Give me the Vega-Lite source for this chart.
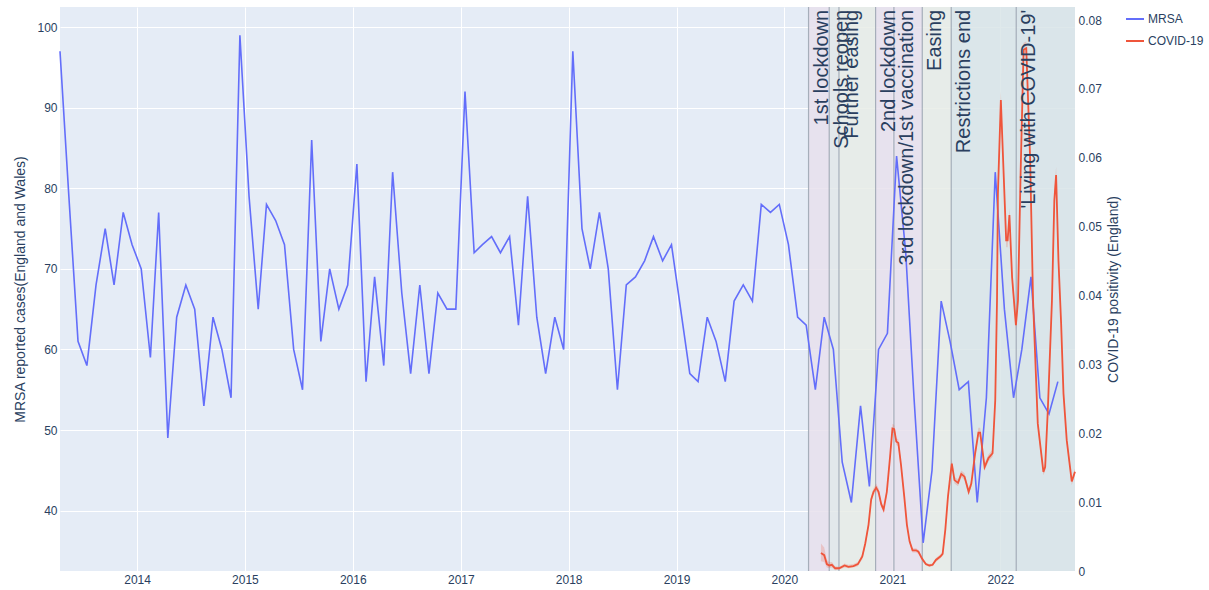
{
"$schema": "https://vega.github.io/schema/vega-lite/v6.json",
"width": 1015, "height": 564,
"autosize": {"type": "none"},
"padding": {"left": 60, "top": 7, "right": 134, "bottom": 19},
"background": "white",
"config": {
  "view": {"fill": "#E5ECF6", "stroke": null},
  "font": "Liberation Sans",
  "axis": {"labelColor": "#2a3f5f", "labelFontSize": 12, "titleColor": "#2a3f5f", "titleFontSize": 14, "titleFontWeight": "normal", "domain": false, "ticks": false, "tickSize": 0, "gridColor": "#ffffff", "gridWidth": 1, "gridOpacity": 1, "labelFont": "Liberation Sans", "titleFont": "Liberation Sans"},
  "legend": {"labelFontSize": 12, "labelColor": "#2a3f5f", "labelFont": "Liberation Sans", "symbolType": "stroke", "symbolSize": 324, "symbolStrokeWidth": 2, "rowPadding": 6, "labelOffset": 3, "padding": 2}
},
"datasets": {
  "mrsa": [
    {"date":"2013-04-15","cases":97},{"date":"2013-05-15","cases":79},{"date":"2013-06-15","cases":61},{"date":"2013-07-15","cases":58},{"date":"2013-08-15","cases":68},{"date":"2013-09-15","cases":75},{"date":"2013-10-15","cases":68},{"date":"2013-11-15","cases":77},{"date":"2013-12-15","cases":73},
    {"date":"2014-01-15","cases":70},{"date":"2014-02-15","cases":59},{"date":"2014-03-15","cases":77},{"date":"2014-04-15","cases":49},{"date":"2014-05-15","cases":64},{"date":"2014-06-15","cases":68},{"date":"2014-07-15","cases":65},{"date":"2014-08-15","cases":53},{"date":"2014-09-15","cases":64},{"date":"2014-10-15","cases":60},{"date":"2014-11-15","cases":54},{"date":"2014-12-15","cases":99},
    {"date":"2015-01-15","cases":79},{"date":"2015-02-15","cases":65},{"date":"2015-03-15","cases":78},{"date":"2015-04-15","cases":76},{"date":"2015-05-15","cases":73},{"date":"2015-06-15","cases":60},{"date":"2015-07-15","cases":55},{"date":"2015-08-15","cases":86},{"date":"2015-09-15","cases":61},{"date":"2015-10-15","cases":70},{"date":"2015-11-15","cases":65},{"date":"2015-12-15","cases":68},
    {"date":"2016-01-15","cases":83},{"date":"2016-02-15","cases":56},{"date":"2016-03-15","cases":69},{"date":"2016-04-15","cases":58},{"date":"2016-05-15","cases":82},{"date":"2016-06-15","cases":67},{"date":"2016-07-15","cases":57},{"date":"2016-08-15","cases":68},{"date":"2016-09-15","cases":57},{"date":"2016-10-15","cases":67},{"date":"2016-11-15","cases":65},{"date":"2016-12-15","cases":65},
    {"date":"2017-01-15","cases":92},{"date":"2017-02-15","cases":72},{"date":"2017-03-15","cases":73},{"date":"2017-04-15","cases":74},{"date":"2017-05-15","cases":72},{"date":"2017-06-15","cases":74},{"date":"2017-07-15","cases":63},{"date":"2017-08-15","cases":79},{"date":"2017-09-15","cases":64},{"date":"2017-10-15","cases":57},{"date":"2017-11-15","cases":64},{"date":"2017-12-15","cases":60},
    {"date":"2018-01-15","cases":97},{"date":"2018-02-15","cases":75},{"date":"2018-03-15","cases":70},{"date":"2018-04-15","cases":77},{"date":"2018-05-15","cases":70},{"date":"2018-06-15","cases":55},{"date":"2018-07-15","cases":68},{"date":"2018-08-15","cases":69},{"date":"2018-09-15","cases":71},{"date":"2018-10-15","cases":74},{"date":"2018-11-15","cases":71},{"date":"2018-12-15","cases":73},
    {"date":"2019-01-15","cases":65},{"date":"2019-02-15","cases":57},{"date":"2019-03-15","cases":56},{"date":"2019-04-15","cases":64},{"date":"2019-05-15","cases":61},{"date":"2019-06-15","cases":56},{"date":"2019-07-15","cases":66},{"date":"2019-08-15","cases":68},{"date":"2019-09-15","cases":66},{"date":"2019-10-15","cases":78},{"date":"2019-11-15","cases":77},{"date":"2019-12-15","cases":78},
    {"date":"2020-01-15","cases":73},{"date":"2020-02-15","cases":64},{"date":"2020-03-15","cases":63},{"date":"2020-04-15","cases":55},{"date":"2020-05-15","cases":64},{"date":"2020-06-15","cases":60},{"date":"2020-07-15","cases":46},{"date":"2020-08-15","cases":41},{"date":"2020-09-15","cases":53},{"date":"2020-10-15","cases":43},{"date":"2020-11-15","cases":60},{"date":"2020-12-15","cases":62},
    {"date":"2021-01-15","cases":84},{"date":"2021-02-15","cases":72},{"date":"2021-03-15","cases":54},{"date":"2021-04-15","cases":36},{"date":"2021-05-15","cases":45},{"date":"2021-06-15","cases":66},{"date":"2021-07-15","cases":61},{"date":"2021-08-15","cases":55},{"date":"2021-09-15","cases":56},{"date":"2021-10-15","cases":41},{"date":"2021-11-15","cases":54},{"date":"2021-12-15","cases":82},
    {"date":"2022-01-15","cases":65},{"date":"2022-02-15","cases":54},{"date":"2022-03-15","cases":60},{"date":"2022-04-15","cases":69},{"date":"2022-05-15","cases":54},{"date":"2022-06-15","cases":52},{"date":"2022-07-15","cases":56}
  ],
  "covid": [
    {"date":"2020-05-04","v":0.0026,"lo":0.0014,"hi":0.0040},
    {"date":"2020-05-15","v":0.0023,"lo":0.0013,"hi":0.0034},
    {"date":"2020-05-24","v":0.0010,"lo":0.0005,"hi":0.0016},
    {"date":"2020-06-01","v":0.0008,"lo":0.0004,"hi":0.0013},
    {"date":"2020-06-10","v":0.0009,"lo":0.0005,"hi":0.0013},
    {"date":"2020-06-21","v":0.0004,"lo":0.0001,"hi":0.0007},
    {"date":"2020-07-05","v":0.0004,"lo":0.0002,"hi":0.0006},
    {"date":"2020-07-23","v":0.0008,"lo":0.0005,"hi":0.0011},
    {"date":"2020-08-05","v":0.0006,"lo":0.0004,"hi":0.0009},
    {"date":"2020-08-22","v":0.0007,"lo":0.0005,"hi":0.0010},
    {"date":"2020-09-06","v":0.0010,"lo":0.0007,"hi":0.0013},
    {"date":"2020-09-21","v":0.0021,"lo":0.0017,"hi":0.0025},
    {"date":"2020-10-01","v":0.0040,"lo":0.0036,"hi":0.0044},
    {"date":"2020-10-12","v":0.0067,"lo":0.0062,"hi":0.0072},
    {"date":"2020-10-21","v":0.0104,"lo":0.0099,"hi":0.0109},
    {"date":"2020-10-29","v":0.0115,"lo":0.0110,"hi":0.0120},
    {"date":"2020-11-07","v":0.0121,"lo":0.0116,"hi":0.0127},
    {"date":"2020-11-15","v":0.0115,"lo":0.0110,"hi":0.0120},
    {"date":"2020-11-24","v":0.0097,"lo":0.0093,"hi":0.0101},
    {"date":"2020-12-02","v":0.0089,"lo":0.0085,"hi":0.0093},
    {"date":"2020-12-13","v":0.0115,"lo":0.0111,"hi":0.0119},
    {"date":"2020-12-24","v":0.0166,"lo":0.0161,"hi":0.0171},
    {"date":"2021-01-01","v":0.0207,"lo":0.0201,"hi":0.0214},
    {"date":"2021-01-07","v":0.0206,"lo":0.0200,"hi":0.0212},
    {"date":"2021-01-14","v":0.0188,"lo":0.0183,"hi":0.0193},
    {"date":"2021-01-21","v":0.0186,"lo":0.0181,"hi":0.0191},
    {"date":"2021-01-30","v":0.0154,"lo":0.0150,"hi":0.0158},
    {"date":"2021-02-10","v":0.0108,"lo":0.0104,"hi":0.0112},
    {"date":"2021-02-19","v":0.0067,"lo":0.0064,"hi":0.0070},
    {"date":"2021-02-28","v":0.0043,"lo":0.0040,"hi":0.0046},
    {"date":"2021-03-10","v":0.0030,"lo":0.0027,"hi":0.0033},
    {"date":"2021-03-22","v":0.0030,"lo":0.0027,"hi":0.0033},
    {"date":"2021-03-30","v":0.0028,"lo":0.0025,"hi":0.0031},
    {"date":"2021-04-11","v":0.0018,"lo":0.0015,"hi":0.0021},
    {"date":"2021-04-24","v":0.0010,"lo":0.0008,"hi":0.0012},
    {"date":"2021-05-06","v":0.0008,"lo":0.0006,"hi":0.0010},
    {"date":"2021-05-17","v":0.0009,"lo":0.0007,"hi":0.0011},
    {"date":"2021-05-28","v":0.0016,"lo":0.0013,"hi":0.0019},
    {"date":"2021-06-12","v":0.0021,"lo":0.0018,"hi":0.0024},
    {"date":"2021-06-20","v":0.0025,"lo":0.0022,"hi":0.0028},
    {"date":"2021-06-29","v":0.0060,"lo":0.0056,"hi":0.0064},
    {"date":"2021-07-08","v":0.0108,"lo":0.0103,"hi":0.0113},
    {"date":"2021-07-16","v":0.0139,"lo":0.0134,"hi":0.0144},
    {"date":"2021-07-21","v":0.0156,"lo":0.0150,"hi":0.0162},
    {"date":"2021-07-30","v":0.0132,"lo":0.0127,"hi":0.0137},
    {"date":"2021-08-11","v":0.0128,"lo":0.0123,"hi":0.0133},
    {"date":"2021-08-22","v":0.0141,"lo":0.0136,"hi":0.0146},
    {"date":"2021-09-02","v":0.0137,"lo":0.0132,"hi":0.0142},
    {"date":"2021-09-16","v":0.0115,"lo":0.0110,"hi":0.0120},
    {"date":"2021-09-25","v":0.0127,"lo":0.0122,"hi":0.0132},
    {"date":"2021-10-08","v":0.0171,"lo":0.0166,"hi":0.0176},
    {"date":"2021-10-19","v":0.0201,"lo":0.0195,"hi":0.0208},
    {"date":"2021-10-25","v":0.0201,"lo":0.0195,"hi":0.0208},
    {"date":"2021-11-09","v":0.0151,"lo":0.0146,"hi":0.0156},
    {"date":"2021-11-22","v":0.0164,"lo":0.0159,"hi":0.0169},
    {"date":"2021-12-06","v":0.0171,"lo":0.0166,"hi":0.0176},
    {"date":"2021-12-15","v":0.0248,"lo":0.0242,"hi":0.0254},
    {"date":"2021-12-21","v":0.0393,"lo":0.0385,"hi":0.0401},
    {"date":"2021-12-24","v":0.0548,"lo":0.0538,"hi":0.0558},
    {"date":"2022-01-03","v":0.0684,"lo":0.0672,"hi":0.0696},
    {"date":"2022-01-12","v":0.0582,"lo":0.0572,"hi":0.0592},
    {"date":"2022-01-21","v":0.0480,"lo":0.0470,"hi":0.0490},
    {"date":"2022-01-26","v":0.0480,"lo":0.0470,"hi":0.0490},
    {"date":"2022-02-01","v":0.0517,"lo":0.0507,"hi":0.0527},
    {"date":"2022-02-10","v":0.0427,"lo":0.0418,"hi":0.0436},
    {"date":"2022-02-23","v":0.0357,"lo":0.0349,"hi":0.0365},
    {"date":"2022-03-02","v":0.0393,"lo":0.0385,"hi":0.0401},
    {"date":"2022-03-11","v":0.0580,"lo":0.0570,"hi":0.0590},
    {"date":"2022-03-21","v":0.0757,"lo":0.0747,"hi":0.0767},
    {"date":"2022-03-30","v":0.0759,"lo":0.0749,"hi":0.0769},
    {"date":"2022-04-12","v":0.0600,"lo":0.0590,"hi":0.0610},
    {"date":"2022-04-22","v":0.0393,"lo":0.0385,"hi":0.0401},
    {"date":"2022-05-08","v":0.0214,"lo":0.0208,"hi":0.0220},
    {"date":"2022-05-27","v":0.0144,"lo":0.0139,"hi":0.0149},
    {"date":"2022-06-02","v":0.0151,"lo":0.0146,"hi":0.0156},
    {"date":"2022-06-11","v":0.0234,"lo":0.0228,"hi":0.0240},
    {"date":"2022-06-25","v":0.0393,"lo":0.0385,"hi":0.0401},
    {"date":"2022-07-03","v":0.0538,"lo":0.0528,"hi":0.0548},
    {"date":"2022-07-09","v":0.0575,"lo":0.0563,"hi":0.0587},
    {"date":"2022-07-17","v":0.0451,"lo":0.0442,"hi":0.0460},
    {"date":"2022-07-26","v":0.0360,"lo":0.0352,"hi":0.0368},
    {"date":"2022-08-03","v":0.0258,"lo":0.0252,"hi":0.0264},
    {"date":"2022-08-14","v":0.0190,"lo":0.0185,"hi":0.0195},
    {"date":"2022-08-31","v":0.0130,"lo":0.0125,"hi":0.0135},
    {"date":"2022-09-11","v":0.0144,"lo":0.0139,"hi":0.0149}
  ],
  "events": [
    {"date":"2020-03-23","label":"1st lockdown"},
    {"date":"2020-06-01","label":"Schools reopen"},
    {"date":"2020-07-04","label":"Further easing"},
    {"date":"2020-11-05","label":"2nd lockdown"},
    {"date":"2021-01-06","label":"3rd lockdown/1st vaccination"},
    {"date":"2021-04-12","label":"Easing"},
    {"date":"2021-07-19","label":"Restrictions end"},
    {"date":"2022-02-24","label":"'Living with COVID-19'"}
  ],
  "phases": [
    {"start":"2020-03-23","end":"2020-06-01","phase":"lockdown"},
    {"start":"2020-06-01","end":"2020-07-04","phase":"schools"},
    {"start":"2020-07-04","end":"2020-11-05","phase":"easing"},
    {"start":"2020-11-05","end":"2021-01-06","phase":"lockdown"},
    {"start":"2021-01-06","end":"2021-04-12","phase":"lockdown"},
    {"start":"2021-04-12","end":"2021-07-19","phase":"easing"},
    {"start":"2021-07-19","end":"2022-02-24","phase":"open"},
    {"start":"2022-02-24","end":"2022-09-11","phase":"living"}
  ]
},
"layer": [
  {"layer": [
    {"data": {"name": "phases"}, "mark": {"type": "rect", "opacity": 0.85},
     "encoding": {
       "x": {"field": "start", "type": "temporal",
             "scale": {"domain": [{"year": 2013, "month": 4, "date": 15}, {"year": 2022, "month": 9, "date": 11}]},
             "axis": {"title": null, "format": "%Y", "tickCount": {"interval": "year", "step": 1}, "labelPadding": 3, "grid": true}},
       "x2": {"field": "end"},
       "fill": {"field": "phase", "type": "nominal", "legend": null,
                "scale": {"domain": ["lockdown", "schools", "easing", "open", "living"], "range": ["#E8E1EC", "#E2E8E9", "#E7ECE6", "#D9E5E8", "#D8E4E7"]}}
     }},
    {"data": {"name": "events"}, "mark": {"type": "rule", "color": "#9aa3b0", "strokeWidth": 1.2, "opacity": 0.85},
     "encoding": {"x": {"field": "date", "type": "temporal"}}},
    {"data": {"name": "mrsa"}, "mark": {"type": "line", "strokeWidth": 1.6},
     "encoding": {
       "x": {"field": "date", "type": "temporal"},
       "y": {"field": "cases", "type": "quantitative", "scale": {"domain": [32.5, 102.5], "nice": false, "zero": false},
             "axis": {"title": "MRSA reported cases(England and Wales)", "values": [40, 50, 60, 70, 80, 90, 100], "labelPadding": 3, "titlePadding": 9}},
       "color": {"datum": "MRSA", "scale": {"domain": ["MRSA", "COVID-19"], "range": ["#636efa", "#EF553B"]},
                 "legend": {"title": null, "orient": "right", "offset": 2}}
     }}
  ]},
  {"layer": [
    {"data": {"name": "covid"}, "mark": {"type": "area", "color": "#EF553B", "opacity": 0.22},
     "encoding": {
       "x": {"field": "date", "type": "temporal"},
       "y": {"field": "lo", "type": "quantitative", "scale": {"domain": [0, 0.0819], "nice": false},
             "axis": {"orient": "right", "title": "COVID-19 positivity (England)", "values": [0, 0.01, 0.02, 0.03, 0.04, 0.05, 0.06, 0.07, 0.08], "format": ".2~f", "labelPadding": 3, "titlePadding": 5, "titleAngle": 270, "titleBaseline": "top"}},
       "y2": {"field": "hi"}
     }},
    {"data": {"name": "covid"}, "mark": {"type": "line", "strokeWidth": 1.8},
     "encoding": {
       "x": {"field": "date", "type": "temporal"},
       "y": {"field": "v", "type": "quantitative"},
       "color": {"datum": "COVID-19"}
     }},
    {"data": {"name": "events"}, "mark": {"type": "text", "angle": 270, "align": "right", "baseline": "middle", "dy": 13, "fontSize": 20, "color": "#2a3f5f", "font": "Liberation Sans"},
     "encoding": {
       "x": {"field": "date", "type": "temporal"},
       "y": {"datum": 0.0815},
       "text": {"field": "label"}
     }}
  ]}
],
"resolve": {"scale": {"y": "independent"}, "axis": {"y": "independent"}}
}
